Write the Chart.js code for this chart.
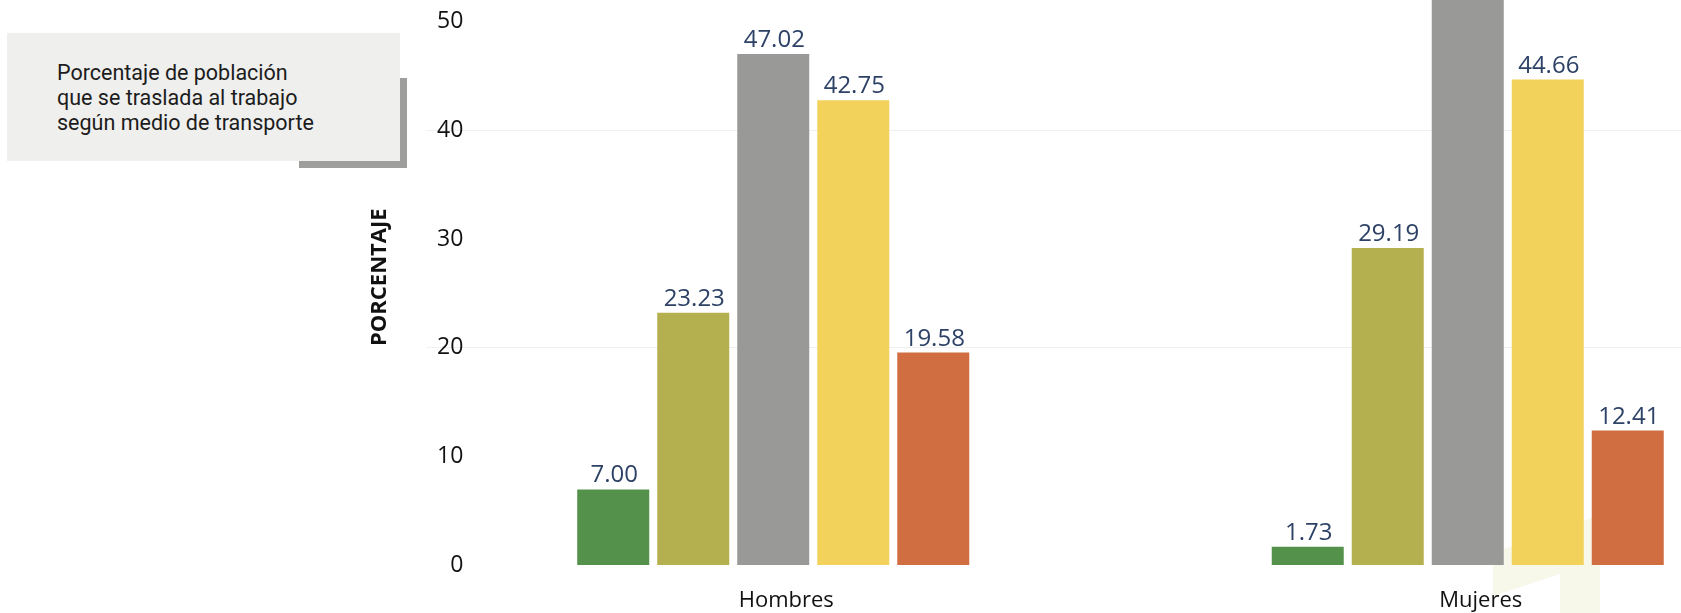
<!DOCTYPE html>
<html><head><meta charset="utf-8">
<script src="https://cdn.jsdelivr.net/npm/chart.js@4.4.1/dist/chart.umd.min.js"></script>
<style>
html,body{margin:0;padding:0;width:1681px;height:613px;overflow:hidden;background:#fff;}
#wm{position:absolute;left:0;top:0;z-index:0}
#c{position:absolute;left:0;top:-36px;z-index:1}
#shadow{position:absolute;left:299px;top:78px;width:108px;height:90px;background:#9e9e9c;z-index:2}
#box{position:absolute;left:7px;top:33px;width:393px;height:128px;background:#efefed;z-index:3}
#box p{position:absolute;left:50px;top:27px;margin:0;font:21.5px/25px Roboto;color:#1c1c1c;white-space:nowrap}
</style></head>
<body>
<svg id="wm" width="1681" height="613"><polygon points="1493,553 1600,515 1600,613 1560,613 1560,574 1493,596" fill="#f7f7ea"/></svg>
<canvas id="c" width="1815" height="672"></canvas>
<div id="shadow"></div>
<div id="box"><p>Porcentaje de población<br>que se traslada al trabajo<br>según medio de transporte</p></div>
<script>
const categories = ['Hombres', 'Mujeres'];
const seriesNames = ['A pie', 'Bicicleta', 'Transporte público', 'Vehículo particular', 'Otro'];
const serie1 = [7.00, 1.73];
const serie2 = [23.23, 29.19];
const serie3 = [47.02, 52.6];
const serie4 = [42.75, 44.66];
const serie5 = [19.58, 12.41];
const seriesColors = ['#54924c', '#b5b04f', '#999a97', '#f2d25a', '#d06e42'];
const yMin = 0, yMax = 53, yStep = 10;

const allSeries = [serie1, serie2, serie3, serie4, serie5];

const valueLabels = {
  id: 'valueLabels',
  afterDatasetsDraw(chart) {
    const ctx = chart.ctx;
    ctx.save();
    ctx.font = '24px "Open Sans"';
    ctx.fillStyle = '#2d4266';
    ctx.textAlign = 'center';
    ctx.textBaseline = 'alphabetic';
    chart.data.datasets.forEach((ds, i) => {
      const meta = chart.getDatasetMeta(i);
      meta.data.forEach((bar, j) => {
        ctx.fillText(ds.data[j].toFixed(2), bar.x + 1, bar.y - 7);
      });
    });
    ctx.restore();
  }
};

new Chart(document.getElementById('c'), {
  type: 'bar',
  data: {
    labels: categories,
    datasets: allSeries.map((d, i) => ({
      label: seriesNames[i],
      data: d,
      backgroundColor: seriesColors[i],
      borderWidth: 0,
      categoryPercentage: 0.576,
      barPercentage: 0.9
    }))
  },
  options: {
    responsive: false,
    animation: false,
    devicePixelRatio: 1,
    layout: { padding: { top: 16, left: 0, right: 0, bottom: 0 } },
    plugins: { legend: { display: false }, tooltip: { enabled: false } },
    scales: {
      x: {
        offset: true,
        grid: { display: false, drawTicks: false },
        border: { display: false },
        ticks: { font: { family: 'Open Sans', size: 22 }, color: '#111', padding: 22, labelOffset: 13 }
      },
      y: {
        min: yMin, max: yMax,
        afterFit(scale) { scale.width = 426; },
        border: { display: false },
        grid: {
          drawTicks: false,
          color: (c) => (c.tick && c.tick.value > 0 && c.tick.value % 20 === 0) ? '#f0f0f0' : 'rgba(0,0,0,0)'
        },
        ticks: {
          stepSize: yStep, includeBounds: false, mirror: true, crossAlign: 'far',
          font: { family: 'Open Sans', size: 23 }, color: '#111', padding: 11
        },
        title: {
          display: true, text: 'PORCENTAJE', color: '#111',
          font: { family: 'Open Sans', size: 22, weight: 'bold' },
          padding: { top: 367, bottom: 0 }
        }
      }
    }
  },
  plugins: [valueLabels]
});
</script>
</body></html>
